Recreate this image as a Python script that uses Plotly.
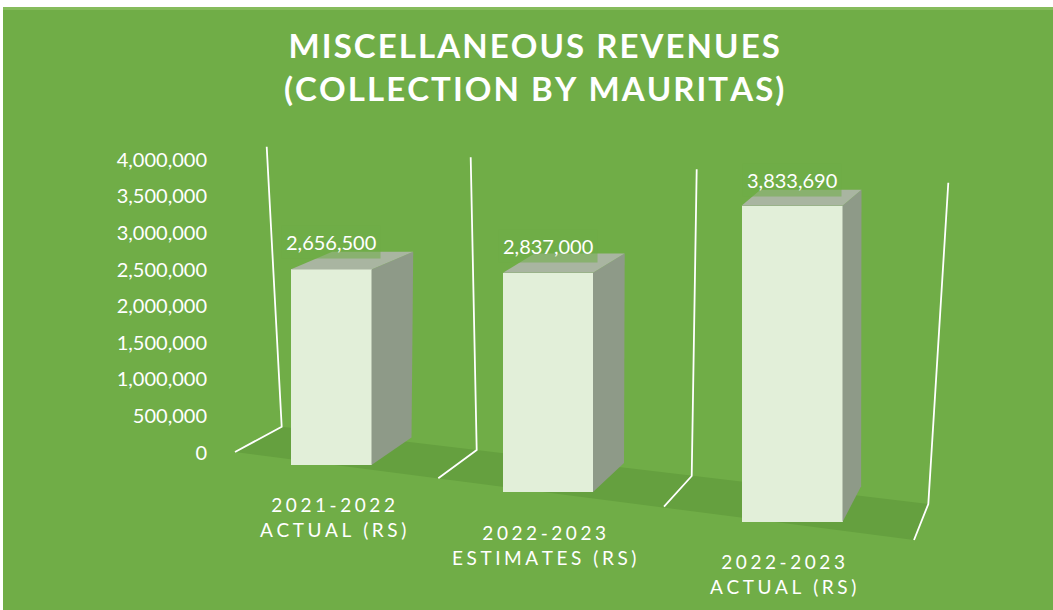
import plotly.graph_objects as go

# ---------------- data ----------------
cat_year = ["2021-2022", "2022-2023", "2022-2023"]
cat_kind = ["ACTUAL (RS)", "ESTIMATES (RS)", "ACTUAL (RS)"]
values = [2656500, 2837000, 3833690]
y_ticks = [0, 500000, 1000000, 1500000, 2000000, 2500000, 3000000, 3500000, 4000000]
title_lines = ["MISCELLANEOUS REVENUES", "(COLLECTION BY MAURITAS)"]

# ---------------- styles / geometry (pixels) ----------------
W, H = 1053, 610
BG = "#70AD47"
FRONT = "#E2EFD9"
SIDE = "#8E9A88"
TOP = "#A9B5A1"
FLOOR = "#65A03F"
FONT = "Lato"

# value axis (labels) : zero pixel and pixels per unit
axis_zero_px = 452.5
axis_px_per_unit = 73.2e-6
axis_x_px = 207

# perspective placement of each bar (front face)
bar_cx = [331, 548, 792]
bar_w = [81, 90, 101]
bar_base = [465, 492, 522]
bar_px_per_unit = [73.6e-6, 77.3e-6, 82.5e-6]
side_top = [(41.7, 17.7), (31.7, 19.3), (19.0, 16.0)]
side_bot = [(40.0, 27.6), (31.0, 29.0), (18.6, 35.7)]
label_lift = [27, 27, 26]
cat_x = [333, 544, 783]
cat_y = [504, 532, 561]
cat_gap = 26

floor_px = [(235, 452), (281.7, 426.7), (928.3, 504), (914, 540)]
grid_px = [
    [(235, 452), (281.7, 426.7), (266.7, 146.7)],
    [(438.3, 478.3), (476.7, 450), (470.7, 157.3)],
    [(664, 506.7), (691.7, 476), (696.7, 169.3)],
    [(914, 540), (928.3, 504), (948.3, 182.7)],
]


def px_path(pts, close=False):
    s = "M " + " L ".join(f"{x / W:.5f},{1 - y / H:.5f}" for x, y in pts)
    return s + (" Z" if close else "")


def spaced(s, sep):
    return sep.join(s.replace(" ", "\u00a0"))


fig = go.Figure()
shapes = []
annotations = []

layout_axes = {}
layout_axes["xaxis"] = dict(range=[0, W], visible=False, domain=[0, 1])
y_bottom = (axis_zero_px - H) / axis_px_per_unit
y_top = axis_zero_px / axis_px_per_unit
layout_axes["yaxis"] = dict(
    range=[y_bottom, y_top], domain=[0, 1], anchor="free", position=axis_x_px / W,
    tickvals=y_ticks, ticktext=[f"{v:,}" for v in y_ticks],
    showgrid=False, zeroline=False, showline=False, ticks="",
    tickfont=dict(family=FONT, size=20, color="white"),
)
# empty trace so the value axis subplot is drawn
fig.add_trace(go.Scatter(x=[None], y=[None], mode="markers", xaxis="x", yaxis="y",
                         hoverinfo="skip", showlegend=False))

for i, v in enumerate(values):
    n = i + 2
    xa, ya = f"x{n}", f"y{n}"
    cat = cat_year[i] + " " + cat_kind[i]
    fw = bar_w[i]
    k = bar_px_per_unit[i]
    layout_axes[f"xaxis{n}"] = dict(
        type="category", overlaying="x", visible=False,
        range=[(0 - bar_cx[i]) / fw, (W - bar_cx[i]) / fw],
    )
    layout_axes[f"yaxis{n}"] = dict(
        overlaying="y", visible=False,
        range=[(bar_base[i] - H) / k, bar_base[i] / k],
    )
    fig.add_trace(go.Bar(
        x=[cat], y=[v], xaxis=xa, yaxis=ya, width=1.0,
        marker=dict(color=FRONT, line=dict(width=0)),
        hoverinfo="skip", showlegend=False,
    ))
    dxT, dyT = side_top[i][0] / fw, side_top[i][1] / k
    dxB, dyB = side_bot[i][0] / fw, side_bot[i][1] / k
    shapes.append(dict(
        type="path", xref=xa, yref=ya, layer="above",
        path=f"M 0.5,{v} L {0.5 + dxT},{v + dyT} L {0.5 + dxB},{dyB} L 0.5,0 Z",
        fillcolor=SIDE, line=dict(width=0),
    ))
    shapes.append(dict(
        type="path", xref=xa, yref=ya, layer="above",
        path=f"M -0.5,{v} L {-0.5 + dxT},{v + dyT} L {0.5 + dxT},{v + dyT} L 0.5,{v} Z",
        fillcolor=TOP, line=dict(width=0),
    ))
    annotations.append(dict(
        x=cat, y=v, xref=xa, yref=ya, yanchor="middle", yshift=label_lift[i],
        text=f"{v:,}", showarrow=False,
        font=dict(family=FONT, size=20, color="white"),
        bgcolor="rgba(112,173,71,0.55)", borderpad=4,
    ))
    annotations.append(dict(
        x=cat_x[i] / W, y=1 - (cat_y[i] + cat_gap / 2) / H, xref="paper", yref="paper",
        text=spaced(cat_year[i], "\u2009\u200a") + "<br>" + spaced(cat_kind[i], "\u2009\u200a"),
        showarrow=False, xanchor="center", yanchor="middle",
        font=dict(family=FONT, size=19, color="white"),
    ))

shapes.insert(0, dict(type="path", xref="paper", yref="paper", layer="below",
                      path=px_path(floor_px, close=True), fillcolor=FLOOR, line=dict(width=0)))
for g in grid_px:
    shapes.insert(1, dict(type="path", xref="paper", yref="paper", layer="below",
                          path=px_path(g), line=dict(color="white", width=1.8)))

shapes.append(dict(type="rect", xref="paper", yref="paper", x0=0, x1=1,
                   y0=1 - 7 / H, y1=1, fillcolor="white", line=dict(width=0), layer="above"))
shapes.append(dict(type="rect", xref="paper", yref="paper", x0=0, x1=1,
                   y0=1 - 10 / H, y1=1 - 7 / H, fillcolor="#86BC5C", line=dict(width=0), layer="above"))
shapes.append(dict(type="rect", xref="paper", yref="paper", x0=0, x1=3 / W,
                   y0=0, y1=1, fillcolor="white", line=dict(width=0), layer="above"))

annotations.append(dict(
    x=534 / W, y=1 - 67 / H, xref="paper", yref="paper", xanchor="center", yanchor="middle",
    text="<br>".join(spaced(t, "\u200a") for t in title_lines), showarrow=False,
    font=dict(family=FONT, size=33, color="white", weight="bold"),
))

fig.update_layout(
    width=W, height=H,
    margin=dict(l=0, r=0, t=0, b=0, autoexpand=False),
    paper_bgcolor=BG, plot_bgcolor="rgba(0,0,0,0)",
    shapes=shapes, annotations=annotations,
    showlegend=False, bargap=0,
    **layout_axes,
)

fig.write_html("out.html", config={"displayModeBar": False},
               post_script="document.body.style.margin='0px';")
